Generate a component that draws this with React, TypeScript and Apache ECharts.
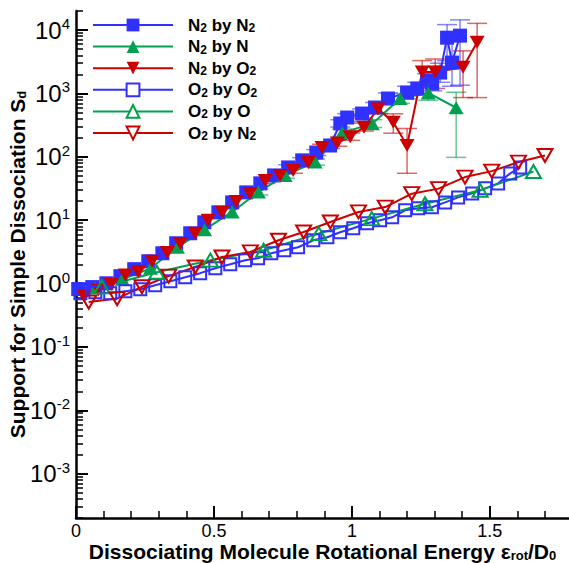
import React, { useEffect, useRef } from 'react';
import * as echarts from 'echarts';

// ---------- data (x = eps_rot/D0, y = S_d) ----------
const n2n2X = [0.008, 0.059, 0.11, 0.161, 0.211, 0.262, 0.313, 0.363, 0.414, 0.465, 0.516, 0.566, 0.617, 0.668, 0.718, 0.769, 0.82, 0.871, 0.921, 0.958, 0.983, 1.037, 1.084, 1.131, 1.2, 1.237, 1.273, 1.291, 1.32, 1.345, 1.363, 1.392];
const n2n2Y = [0.82, 0.88, 1.01, 1.31, 1.69, 2.25, 3.01, 4.33, 6.22, 9.27, 13.3, 19.1, 27.5, 38.1, 50.9, 68, 88, 117, 151, 336, 417, 482, 600, 832, 1030, 1194, 1597, 1432, 2133, 7590, 3070, 8170];
const n2n2Lo = [null, null, null, null, null, null, null, null, null, null, null, null, null, null, null, 62, 80, 105, 135, 295, 360, 410, 500, 680, 820, 950, 1250, 1100, 1500, 3300, 1300, 1350];
const n2n2Hi = [null, null, null, null, null, null, null, null, null, null, null, null, null, null, null, 75, 97, 130, 170, 385, 480, 570, 720, 1020, 1300, 1500, 2050, 1850, 3000, 12200, 7000, 14500];

const n2nX = [0.07, 0.168, 0.27, 0.368, 0.466, 0.566, 0.661, 0.758, 0.867, 0.965, 1.074, 1.175, 1.277, 1.378];
const n2nY = [0.85, 1.17, 1.74, 3.74, 7.1, 13.5, 27.8, 50.9, 82.5, 240, 334, 830, 1020, 595];
const n2nLo = [null, null, null, null, null, null, 25, 46, 74, 210, 290, 700, 780, 98];
const n2nHi = [null, null, null, null, null, null, 31, 56, 92, 275, 385, 990, 1300, 1045];

const n2o2X = [0.03, 0.081, 0.128, 0.179, 0.226, 0.276, 0.331, 0.378, 0.432, 0.479, 0.53, 0.581, 0.631, 0.686, 0.74, 0.787, 0.842, 0.892, 0.947, 0.994, 1.044, 1.095, 1.15, 1.2, 1.255, 1.302, 1.403, 1.454];
const n2o2Y = [0.63, 0.79, 0.98, 1.36, 1.53, 2.25, 3.1, 4.3, 6.2, 9.96, 13.4, 19.8, 26.5, 42.5, 50.9, 61, 81.5, 140, 166, 208, 294, 570, 350, 151, 2180, 2180, 2590, 6400];
const n2o2Lo = [null, null, null, null, null, null, null, null, null, null, null, null, 24, 38, 46, 55, 73, 124, 147, 182, 255, 480, 236, 55, 1200, 1200, 861, 860];
const n2o2Hi = [null, null, null, null, null, null, null, null, null, null, null, null, 29, 47, 56, 68, 91, 158, 188, 238, 340, 680, 477, 280, 3300, 3500, 4700, 12760];

const o2o2X = [0.016, 0.07, 0.124, 0.179, 0.233, 0.287, 0.342, 0.396, 0.45, 0.505, 0.559, 0.613, 0.66, 0.708, 0.755, 0.805, 0.86, 0.911, 0.957, 1.005, 1.055, 1.102, 1.146, 1.193, 1.24, 1.29, 1.338, 1.385, 1.436, 1.483, 1.53, 1.574, 1.61];
const o2o2Y = [0.706, 0.732, 0.706, 0.759, 0.816, 0.944, 1.09, 1.26, 1.46, 1.75, 2.02, 2.34, 2.51, 3.01, 3.36, 3.74, 4.82, 5.38, 6.45, 7.45, 8.94, 9.96, 11.1, 14.3, 15.4, 16.0, 19.1, 22.9, 26.5, 31.8, 38.1, 54.8, 68.1];

const o2oX = [0.094, 0.293, 0.487, 0.68, 0.88, 1.072, 1.265, 1.465, 1.658];
const o2oY = [0.887, 1.51, 2.34, 3.36, 6.15, 10.6, 18.2, 29.6, 58.6];

const o2n2X = [0.046, 0.149, 0.239, 0.336, 0.432, 0.529, 0.632, 0.734, 0.825, 0.922, 1.024, 1.121, 1.217, 1.314, 1.41, 1.507, 1.604, 1.7];
const o2n2Y = [0.51, 0.58, 0.89, 1.31, 1.83, 2.63, 3.16, 4.82, 6.51, 9.37, 13.5, 16.1, 26.2, 31.5, 47.9, 59.5, 82.6, 105];

const xMajorTicks = [0, 0.5, 1, 1.5];
const xMinorTicks = [0.1, 0.2, 0.3, 0.4, 0.6, 0.7, 0.8, 0.9, 1.1, 1.2, 1.3, 1.4, 1.6, 1.7];
const yDecades = [-3, -2, -1, 0, 1, 2, 3, 4];
const Y_MIN = 2e-4;
const Y_MAX = 2e4;
const X_MAX = 1.787;

const FONT = 'Liberation Sans, Arial, Helvetica, sans-serif';
const BLUE = '#3030ff';
const GREEN = '#00a050';
const RED = '#cc0000';

const legendText: Record<string, string> = {
  'N2 by N2': '{sp| }N{s|2} by N{s|2}',
  'N2 by N': '{sp| }N{s|2} by N',
  'N2 by O2': '{sp| }N{s|2} by O{s|2}',
  'O2 by O2': '{sp| }O{s|2} by O{s|2}',
  'O2 by O': '{sp| }O{s|2} by O',
  'O2 by N2': '{sp| }O{s|2} by N{s|2}',
};

function pts(xs: number[], ys: number[]) {
  return xs.map((x, i) => [x, Math.log10(ys[i])]);
}
function errs(xs: number[], lo: (number | null)[], hi: (number | null)[]) {
  const out: number[][] = [];
  xs.forEach((x, i) => {
    const l = lo[i];
    const h = hi[i];
    if (l != null && h != null) out.push([x, Math.log10(l), Math.log10(h)]);
  });
  return out;
}

function minorLogTicks(): number[] {
  const lo = Math.log10(Y_MIN) - 1e-9;
  const hi = Math.log10(Y_MAX) + 1e-9;
  const res: number[] = [];
  for (let k = -4; k <= 4; k++) {
    for (let m = 2; m <= 9; m++) {
      const v = Math.log10(m) + k;
      if (v >= lo && v <= hi) res.push(v);
    }
  }
  return res;
}

function errSeries(name: string, data: number[][], color: string) {
  return {
    type: 'custom',
    name,
    silent: true,
    z: 1,
    encode: { x: 0, y: [1, 2] },
    data,
    renderItem: (params: any, api: any) => {
      const x = api.value(0);
      const a = api.coord([x, api.value(1)]);
      const b = api.coord([x, api.value(2)]);
      const w = 10;
      const st = { stroke: color, lineWidth: 1.5 };
      return {
        type: 'group',
        children: [
          { type: 'line', shape: { x1: a[0], y1: a[1], x2: b[0], y2: b[1] }, style: st },
          { type: 'line', shape: { x1: a[0] - w, y1: a[1], x2: a[0] + w, y2: a[1] }, style: st },
          { type: 'line', shape: { x1: b[0] - w, y1: b[1], x2: b[0] + w, y2: b[1] }, style: st },
        ],
      };
    },
  };
}

function lineSeries(name: string, data: number[][], color: string, symbol: string, rotate: number, filled: boolean, size: any) {
  return {
    type: 'line',
    name,
    data,
    symbol,
    symbolSize: size,
    symbolRotate: rotate,
    z: 3,
    lineStyle: { color, width: 2 },
    itemStyle: filled
      ? { color }
      : { color: 'rgba(255,255,255,0)', borderColor: color, borderWidth: 2 },
  };
}

export default function App() {
  const ref = useRef<HTMLDivElement>(null);
  useEffect(() => {
    if (!ref.current) return;
    const chart = echarts.init(ref.current, undefined, { renderer: 'svg' });
    const yMinLog = Math.log10(Y_MIN);
    const yMaxLog = Math.log10(Y_MAX);
    const subStyle = { fontSize: 13, fontFamily: FONT, fontWeight: 'bold', color: '#000', verticalAlign: 'bottom', lineHeight: 10 };
    const option: any = {
      animation: false,
      backgroundColor: '#fff',
      grid: { left: 76, right: 0, top: 11, bottom: 45, containLabel: false, outerBoundsMode: 'none' },
      legend: {
        orient: 'vertical',
        left: 92,
        top: 16,
        padding: 0,
        itemWidth: 80,
        itemHeight: 16,
        itemGap: 3.6,
        selectedMode: false,
        data: [
          { name: 'N2 by N2' },
          { name: 'N2 by N' },
          { name: 'N2 by O2' },
          { name: 'O2 by O2', itemStyle: { color: '#fff' } },
          { name: 'O2 by O', itemStyle: { color: '#fff' } },
          { name: 'O2 by N2', itemStyle: { color: '#fff' } },
        ],
        formatter: (n: string) => legendText[n] || n,
        textStyle: {
          fontSize: 17,
          fontWeight: 'bold',
          fontFamily: FONT,
          color: '#000',
          lineHeight: 18,
          rich: {
            s: { fontSize: 12, fontFamily: FONT, fontWeight: 'bold', color: '#000', verticalAlign: 'bottom', lineHeight: 10 },
            sp: { width: 10 },
          },
        },
      },
      xAxis: [
        {
          type: 'value',
          min: 0,
          max: X_MAX,
          position: 'bottom',
          splitLine: { show: false },
          axisLine: { onZero: false, lineStyle: { color: '#000', width: 2.5 } },
          axisTick: { inside: true, length: 12, customValues: xMajorTicks, lineStyle: { color: '#000', width: 2 } },
          axisLabel: { customValues: xMajorTicks, fontSize: 18, fontFamily: FONT, color: '#000', margin: 4 },
          name: 'Dissociating Molecule Rotational Energy ε{s|rot}/D{s|0}',
          nameLocation: 'middle',
          nameGap: 22,
          nameMoveOverlap: false,
          nameTextStyle: {
            fontSize: 21,
            fontWeight: 'bold',
            fontFamily: FONT,
            color: '#000',
            lineHeight: 22,
            rich: { s: subStyle },
          },
        },
        {
          type: 'value',
          min: 0,
          max: X_MAX,
          position: 'bottom',
          splitLine: { show: false },
          axisLine: { show: false, onZero: false },
          axisTick: { inside: true, length: 7, customValues: xMinorTicks, lineStyle: { color: '#000', width: 1.5 } },
          axisLabel: { show: false },
        },
      ],
      yAxis: [
        {
          type: 'value',
          min: yMinLog,
          max: yMaxLog,
          position: 'left',
          splitLine: { show: false },
          axisLine: { onZero: false, lineStyle: { color: '#000', width: 2.5 } },
          axisTick: { inside: true, length: 12, customValues: yDecades, lineStyle: { color: '#000', width: 2 } },
          axisLabel: {
            customValues: yDecades,
            margin: 6,
            formatter: (v: number) => `{b|10}{e|${Math.round(v)}}`,
            rich: {
              b: { fontSize: 24, fontFamily: FONT, color: '#000', lineHeight: 28 },
              e: { fontSize: 15, fontFamily: FONT, color: '#000', lineHeight: 17, verticalAlign: 'top' },
            },
          },
          name: 'Support for Simple Dissociation S{s|d}',
          nameLocation: 'middle',
          nameGap: 48,
          nameRotate: 90,
          nameMoveOverlap: false,
          nameTextStyle: {
            fontSize: 21,
            fontWeight: 'bold',
            fontFamily: FONT,
            color: '#000',
            lineHeight: 22,
            rich: { s: subStyle },
          },
        },
        {
          type: 'value',
          min: yMinLog,
          max: yMaxLog,
          position: 'left',
          offset: 0,
          splitLine: { show: false },
          axisLine: { show: false, onZero: false },
          axisTick: { inside: true, length: 7, customValues: minorLogTicks(), lineStyle: { color: '#000', width: 1.5 } },
          axisLabel: { show: false },
        },
      ],
      series: [
        errSeries('e1', errs(n2n2X, n2n2Lo, n2n2Hi), 'rgba(48,48,255,0.6)'),
        errSeries('e2', errs(n2nX, n2nLo, n2nHi), 'rgba(0,160,80,0.6)'),
        errSeries('e3', errs(n2o2X, n2o2Lo, n2o2Hi), 'rgba(204,0,0,0.6)'),
        lineSeries('N2 by N2', pts(n2n2X, n2n2Y), BLUE, 'rect', 0, true, 14),
        lineSeries('N2 by N', pts(n2nX, n2nY), GREEN, 'triangle', 0, true, [15, 13]),
        lineSeries('N2 by O2', pts(n2o2X, n2o2Y), RED, 'triangle', 180, true, [15, 13]),
        lineSeries('O2 by O2', pts(o2o2X, o2o2Y), BLUE, 'rect', 0, false, 12),
        lineSeries('O2 by O', pts(o2oX, o2oY), GREEN, 'triangle', 0, false, [15, 13]),
        lineSeries('O2 by N2', pts(o2n2X, o2n2Y), RED, 'triangle', 180, false, [15, 13]),
      ],
    };
    chart.setOption(option);
    return () => chart.dispose();
  }, []);
  return <div ref={ref} style={{ position: 'absolute', left: 0, top: 0, width: 569, height: 563 }} />;
}
